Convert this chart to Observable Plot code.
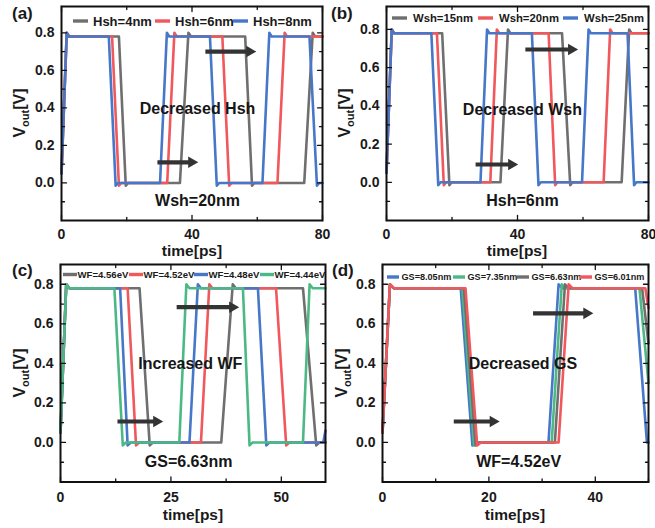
<!DOCTYPE html>
<html><head><meta charset="utf-8">
<script src="https://cdn.jsdelivr.net/npm/d3@7"></script>
<script src="https://cdn.jsdelivr.net/npm/@observablehq/plot@0.6"></script>
<style>
body{margin:0;background:#fff;}
#fig{position:relative;width:655px;height:528px;background:#fff;overflow:hidden;font-family:"Liberation Sans",Arial,sans-serif;}
#fig > svg{position:absolute;}
</style></head><body>
<div id="fig"></div>
<script>
// ---------- colours ----------
const cGray = "#6f6f6f", cRed = "#f0585c", cBlue = "#4677c8", cGreen = "#4cb985";

// ---------- panel (a): Hsh sweep, Wsh = 20 nm  [time ps, Vout V] ----------
const aHsh4 = [[0,0.05],[1.6,0.8],[2.3,0.78],[17.6,0.78],[19.7,-0.015],[20.4,0],[36.3,0],[38.9,0.8],[39.7,0.78],[56.3,0.78],[58.4,-0.015],[59.1,0],[74.4,0],[77,0.8],[77.7,0.78],[80,0.78]];
const aHsh6 = [[0,0.05],[1.6,0.8],[2.3,0.78],[15.5,0.78],[17.6,-0.015],[18.3,0],[32.4,0],[34.6,0.8],[35.3,0.78],[49.3,0.78],[51.4,-0.015],[52.1,0],[66.2,0],[68.4,0.8],[69.1,0.78],[80,0.78]];
const aHsh8 = [[0,0.05],[1.6,0.8],[2.3,0.78],[14.5,0.78],[16.6,-0.015],[17.3,0],[30.2,0],[32.3,0.8],[33,0.78],[45.5,0.78],[47.6,-0.015],[48.3,0],[61.6,0],[63.7,0.8],[64.4,0.78],[76,0.78],[78.3,-0.015],[79,0],[80,0]];
const aLabels = ["Hsh=4nm","Hsh=6nm","Hsh=8nm"];
const aNotes = [[41.7,0.397,"Decreased Hsh"],[41.7,-0.095,"Wsh=20nm"]];
const aArrows = [[44.1,59.5,0.70],[29.4,41.7,0.11]];

// ---------- panel (b): Wsh sweep, Hsh = 6 nm ----------
const bWsh15 = [[0,0.05],[1.6,0.8],[2.3,0.78],[17,0.78],[19.2,-0.015],[19.9,0],[34.8,0],[37.1,0.8],[37.8,0.78],[53.6,0.78],[56.1,-0.015],[56.8,0],[71.8,0],[74.1,0.8],[74.8,0.78],[80,0.78]];
const bWsh20 = [[0,0.05],[1.6,0.8],[2.3,0.78],[15.4,0.78],[17.5,-0.015],[18.2,0],[31.7,0],[33.7,0.8],[34.4,0.78],[49.5,0.78],[51.5,-0.015],[52.2,0],[66.3,0],[68.3,0.8],[69,0.78],[80,0.78]];
const bWsh25 = [[0,0.05],[1.6,0.8],[2.3,0.78],[13.7,0.78],[15.8,-0.015],[16.5,0],[28.7,0],[30.7,0.8],[31.4,0.78],[44.4,0.78],[46.4,-0.015],[47.1,0],[59.7,0],[61.7,0.8],[62.4,0.78],[73.6,0.78],[75.6,-0.015],[76.3,0],[80,0]];
const bLabels = ["Wsh=15nm","Wsh=20nm","Wsh=25nm"];
const bNotes = [[41.5,0.38,"Decreased Wsh"],[41.5,-0.096,"Hsh=6nm"]];
const bArrows = [[42.4,58.3,0.695],[27.2,40.0,0.093]];

// ---------- panel (c): WF sweep, GS = 6.63 nm ----------
const cWF456 = [[0,0.05],[1.3,0.8],[2,0.78],[17.9,0.78],[20.2,-0.015],[20.9,0],[36.4,0],[39,0.8],[39.7,0.78],[54.9,0.78],[57.9,-0.015],[58.6,0],[60,0]];
const cWF452 = [[0,0.05],[1.3,0.8],[2,0.78],[15.2,0.78],[17.1,-0.015],[17.8,0],[31.8,0],[33.7,0.8],[34.4,0.78],[48.8,0.78],[51.1,-0.015],[51.8,0],[60,0]];
const cWF448 = [[0,0.05],[1.3,0.8],[2,0.78],[13.5,0.78],[15.2,-0.015],[15.9,0],[29.2,0],[31.1,0.8],[31.8,0.78],[44.7,0.78],[46.6,-0.015],[47.3,0],[59.5,0],[60,0.06]];
const cWF444 = [[0,0.05],[1.3,0.8],[2,0.78],[12.2,0.78],[14.1,-0.015],[14.8,0],[26.9,0],[28.5,0.8],[29.2,0.78],[41.3,0.78],[42.8,-0.015],[43.5,0],[54.9,0],[56.4,0.8],[57.1,0.78],[60,0.78]];
const cLabels = ["WF=4.56eV","WF=4.52eV","WF=4.48eV","WF=4.44eV"];
const cNotes = [[29.4,0.395,"Increased WF"],[29,-0.096,"GS=6.63nm"]];
const cArrows = [[26.3,40.3,0.684],[12.9,23.1,0.106]];

// ---------- panel (d): GS sweep, WF = 4.52 eV ----------
const dGS805 = [[0,0.05],[1.4,0.8],[2.1,0.78],[14.7,0.78],[16.9,-0.015],[17.6,0],[31.2,0],[33.1,0.8],[33.8,0.78],[47.5,0.78],[49.7,0],[50,0]];
const dGS735 = [[0,0.05],[1.4,0.8],[2.1,0.78],[15,0.78],[17.2,-0.015],[17.9,0],[31.8,0],[33.7,0.8],[34.4,0.78],[48.3,0.78],[50,0.3]];
const dGS663 = [[0,0.05],[1.4,0.8],[2.1,0.78],[15.3,0.78],[17.5,-0.015],[18.2,0],[32.4,0],[34.3,0.8],[35,0.78],[48.8,0.78],[50,0.5]];
const dGS601 = [[0,0.05],[1.4,0.8],[2.1,0.78],[15.6,0.78],[17.8,-0.015],[18.5,0],[33.1,0],[35,0.8],[35.7,0.78],[49.4,0.78],[50,0.68]];
const dLabels = ["GS=8.05nm","GS=7.35nm","GS=6.63nm","GS=6.01nm"];
const dNotes = [[26.4,0.395,"Decreased GS"],[25.6,-0.096,"WF=4.52eV"]];
const dArrows = [[28.3,39.5,0.653],[13.4,21.9,0.106]];

// ---------- ticks ----------
const yMajor = [0, 0.2, 0.4, 0.6, 0.8];
const yMinor = [-0.1, 0.1, 0.3, 0.5, 0.7];
const abXMajor = [0, 40, 80], abXMinor = [20, 60];
const cXMajor = [0, 25, 50], cXMinor = [12.5, 37.5];
const dXMajor = [0, 20, 40], dXMinor = [10, 30, 50];

const fig = document.getElementById("fig");
const FONT = "Liberation Sans, Arial, sans-serif";
const tickShape = {draw(ctx, l) { ctx.moveTo(0, 0); ctx.lineTo(0, -l); }};

function tickMarks(vals, axis, len) {
  const o = {length: len, shape: tickShape, anchor: "start", stroke: "#111", strokeWidth: 1.3};
  if (axis === "x") return [
    Plot.vector(vals, {...o, x: d => d, frameAnchor: "bottom", rotate: 0}),
    Plot.vector(vals, {...o, x: d => d, frameAnchor: "top", rotate: 180})
  ];
  return [
    Plot.vector(vals, {...o, y: d => d, frameAnchor: "left", rotate: 90}),
    Plot.vector(vals, {...o, y: d => d, frameAnchor: "right", rotate: -90})
  ];
}

function panel(cfg) {
  const marks = [
    ...cfg.series.map(s => Plot.line(s.data, {x: d => d[0], y: d => d[1], stroke: s.color, strokeWidth: 2.6, strokeLinejoin: "round"})),
    Plot.text(cfg.notes, {x: d => d[0], y: d => d[1], text: d => d[2], fontSize: 16, fontWeight: "bold", fill: "#161616"}),
    Plot.arrow(cfg.arrows, {x1: d => d[0], x2: d => d[1], y1: d => d[2], y2: d => d[2], headLength: 0, insetEnd: 7, stroke: "#333", strokeWidth: 4.2, strokeLinecap: "butt"}),
    Plot.dot(cfg.arrows, {x: d => d[1], y: d => d[2], symbol: "triangle", r: 4.3, rotate: 90, fill: "#333", stroke: null, dx: -6}),
    ...tickMarks(cfg.xMajor, "x", 5), ...tickMarks(cfg.xMinor, "x", 3),
    ...tickMarks(yMajor, "y", 5), ...tickMarks(yMinor, "y", 3),
    Plot.frame({stroke: "#111", strokeWidth: 2}),
    Plot.axisX(cfg.xMajor, {tickSize: 0, tickPadding: cfg.xPad, fontSize: 14, fontWeight: "bold", label: null}),
    Plot.axisY(yMajor, {tickSize: 0, tickPadding: 7, fontSize: 14, fontWeight: "bold", label: null, tickFormat: d3.format(".1f")})
  ];
  const svg = Plot.plot({
    width: cfg.W, height: cfg.H,
    marginLeft: cfg.m[0], marginRight: cfg.m[1], marginTop: cfg.m[2], marginBottom: cfg.m[3],
    x: {domain: cfg.xDomain}, y: {domain: cfg.yDomain},
    style: {fontFamily: FONT, fontWeight: "bold", fontSize: "14px", color: "#1a1a1a", overflow: "visible", background: "transparent"},
    marks
  });
  svg.style.left = cfg.left + "px";
  svg.style.top = cfg.top + "px";
  fig.appendChild(svg);
}

panel({left: 0, top: 0, W: 327, H: 262, m: [61, 5, 6, 42], xDomain: [0, 80], yDomain: [-0.2, 0.94], xPad: 8.5,
  xMajor: abXMajor, xMinor: abXMinor, notes: aNotes, arrows: aArrows,
  series: [{data: aHsh4, color: cGray}, {data: aHsh6, color: cRed}, {data: aHsh8, color: cBlue}]});
panel({left: 327, top: 0, W: 328, H: 262, m: [59, 7, 6, 42], xDomain: [0, 80], yDomain: [-0.2, 0.92], xPad: 8.5,
  xMajor: abXMajor, xMinor: abXMinor, notes: bNotes, arrows: bArrows,
  series: [{data: bWsh15, color: cGray}, {data: bWsh20, color: cRed}, {data: bWsh25, color: cBlue}]});
panel({left: 0, top: 262, W: 327, H: 266, m: [60, 2, 2, 46.5], xDomain: [0, 60], yDomain: [-0.2, 0.9], xPad: 10,
  xMajor: cXMajor, xMinor: cXMinor, notes: cNotes, arrows: cArrows,
  series: [{data: cWF456, color: cGray}, {data: cWF452, color: cRed}, {data: cWF448, color: cBlue}, {data: cWF444, color: cGreen}]});
panel({left: 327, top: 262, W: 328, H: 266, m: [55, 7, 2, 46.5], xDomain: [0, 50], yDomain: [-0.2, 0.9], xPad: 10,
  xMajor: dXMajor, xMinor: dXMinor, notes: dNotes, arrows: dArrows,
  series: [{data: dGS805, color: cBlue}, {data: dGS735, color: cGreen}, {data: dGS663, color: cGray}, {data: dGS601, color: cRed}]});

// ---------- overlay: panel letters, axis titles, legends ----------
const ov = d3.select(fig).append("svg").attr("width", 655).attr("height", 528)
  .style("left", "0px").style("top", "0px").style("pointer-events", "none")
  .attr("font-family", FONT).attr("font-weight", "bold").attr("fill", "#1a1a1a");

[["(a)", 12, 19], ["(b)", 331, 19], ["(c)", 12, 276], ["(d)", 332, 276]].forEach(([t, x, y]) =>
  ov.append("text").attr("x", x).attr("y", y).attr("font-size", 17).text(t));

[[192, 255.5], [517, 255.5], [193, 519.5], [515, 519.5]].forEach(([x, y]) =>
  ov.append("text").attr("x", x).attr("y", y).attr("font-size", 15.5).attr("text-anchor", "middle").text("time[ps]"));

[[25, 113], [350, 113], [25, 373], [347, 373]].forEach(([x, y]) => {
  const t = ov.append("text").attr("transform", `translate(${x},${y}) rotate(-90)`).attr("text-anchor", "middle").attr("font-size", 16);
  t.append("tspan").text("V");
  t.append("tspan").attr("font-size", 11).attr("dy", 4).text("out");
  t.append("tspan").attr("dy", -4).text("[V]");
});

function legend(labels, colors, xs, y, fs, sw, gap) {
  labels.forEach((lab, i) => {
    ov.append("rect").attr("x", xs[i]).attr("y", y - 1.7).attr("width", sw).attr("height", 3.4).attr("fill", colors[i]);
    ov.append("text").attr("x", xs[i] + sw + gap).attr("y", y).attr("dy", "0.36em").attr("font-size", fs).text(lab);
  });
}
legend(aLabels, [cGray, cRed, cBlue], [73, 155, 233], 21, 13, 15, 5);
legend(bLabels, [cGray, cRed, cBlue], [392, 478, 563], 18, 11.3, 15, 6);
legend(cLabels, [cGray, cRed, cBlue, cGreen], [63, 129, 194, 260], 274.5, 9.6, 14, 0.5);
legend(dLabels, [cBlue, cGreen, cGray, cRed], [387, 453, 517, 580], 277, 9.1, 12, 2.5);
</script>
</body></html>
